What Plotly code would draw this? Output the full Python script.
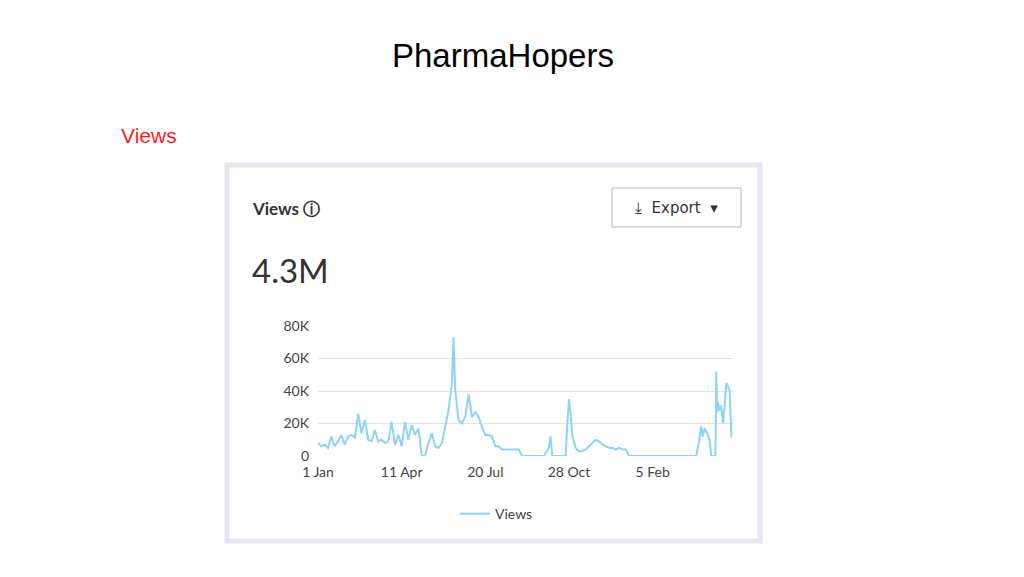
import datetime as dt
import plotly.graph_objects as go

start = dt.date(2022, 1, 1)
day_offsets = [0,4,8,12,16,20,24,28,32,36,40,44,48,52,56,60,64,68,72,76,80,84,88,92,96,100,104,108,112,116,120,
               124,128,132,136,140,144,148,152,156,160,162,164,168,172,176,180,184,188,192,196,200,204,208,212,216,220,224,228,232,236,240,
               244,250,260,270,276,278,280,284,290,296,298,300,302,304,308,312,316,320,324,328,332,336,340,344,348,352,356,360,364,368,
               372,380,400,420,440,452,455,458,460,462,465,468,470,473,475,476,477,478,480,482,484,486,488,490,492,494,495]
views_k = [8,6,7,5,12,6,9,13,7,12,13,11,26,14,22,10,9,16,9,10,8,9,21,7,13,6,21,10,19,13,17,
           0,0,8,14,6,5,8,18,28,45,73,40,22,20,24,38,24,27,24,18,13,13,12,6,6,4,4,4,4,4,4,
           0,0,0,0,5,12,0,0,0,0,20,35,25,12,5,3,3,4,6,8,10,9,7,6,5,5,4,5,4,4,
           0,0,0,0,0,0,8,18,12,17,14,10,0,0,0,52,27,33,28,31,20,30,45,43,40,12,12][:len(day_offsets)]
views = [v * 1000 for v in views_k]
dates = [start + dt.timedelta(days=d) for d in day_offsets]

tick_dates = [start + dt.timedelta(days=100 * i) for i in range(5)]
tick_text = ["1 Jan", "11 Apr", "20 Jul", "28 Oct", "5 Feb"]
y_ticks = [0, 20000, 40000, 60000, 80000]
y_text = ["0", "20K", "40K", "60K", "80K"]

W, H = 1024, 577
OFF = 8
L, R, T, B = 318 - OFF, 733 - OFF, 326 - OFF, 456 - OFF

def px(x):
    return (x - OFF - L) / (R - L)

def py(y):
    return (B - (y - OFF)) / (B - T)

fig = go.Figure(go.Scatter(x=dates, y=views, mode="lines", name="Views",
                           line=dict(color="#8fd3f4", width=2)))
fig.update_layout(
    width=W, height=H, margin=dict(l=L, r=W - R, t=T, b=H - B),
    paper_bgcolor="white", plot_bgcolor="white",
    font=dict(family="Lato, Inter, sans-serif", color="#444"),
    showlegend=True,
    legend=dict(orientation="h", x=px(455), y=py(514), yanchor="middle", xanchor="left",
                font=dict(size=14, color="#444")),
    xaxis=dict(range=[start, start + dt.timedelta(days=496)], tickvals=tick_dates, ticktext=tick_text,
               showgrid=False, ticks="", tickfont=dict(size=14, color="#444"), showline=False,
               ticklabelstandoff=6),
    yaxis=dict(range=[0, 80000], tickvals=y_ticks, ticktext=y_text, gridcolor="#e3e3e3",
               zeroline=False, tickfont=dict(size=14, color="#444"), ticklabelstandoff=8),
)
shapes = [
    dict(type="rect", xref="paper", yref="paper", x0=px(227), x1=px(760), y0=py(541), y1=py(165),
         line=dict(color="#e6e6f2", width=5), fillcolor="rgba(0,0,0,0)", layer="below"),
    dict(type="rect", xref="paper", yref="paper", x0=px(612), x1=px(741), y0=py(227), y1=py(188),
         line=dict(color="#b8b8b8", width=1), fillcolor="white"),
]
fig.update_layout(shapes=shapes)
ann = [
    dict(text="PharmaHopers", x=px(503), y=py(55), font=dict(family="Liberation Sans, Arial", size=33, color="black")),
    dict(text="Views", x=px(149), y=py(135), font=dict(family="Liberation Sans, Arial", size=21, color="#ff1a1a")),
    dict(text="<b>Views</b> <b>ⓘ</b>", x=px(250), y=py(208), xanchor="left", font=dict(size=17, color="#333")),
    dict(text="⤓  Export  ▾", x=px(676), y=py(208), font=dict(size=15, color="#333", family="DejaVu Sans")),
    dict(text="4.3M", x=px(250), y=py(270), xanchor="left", font=dict(size=33, color="#333")),
]
for a in ann:
    a.setdefault("xanchor", "center")
    a.update(xref="paper", yref="paper", showarrow=False, yanchor="middle")
fig.update_layout(annotations=ann)
fig.write_html("out.html")
